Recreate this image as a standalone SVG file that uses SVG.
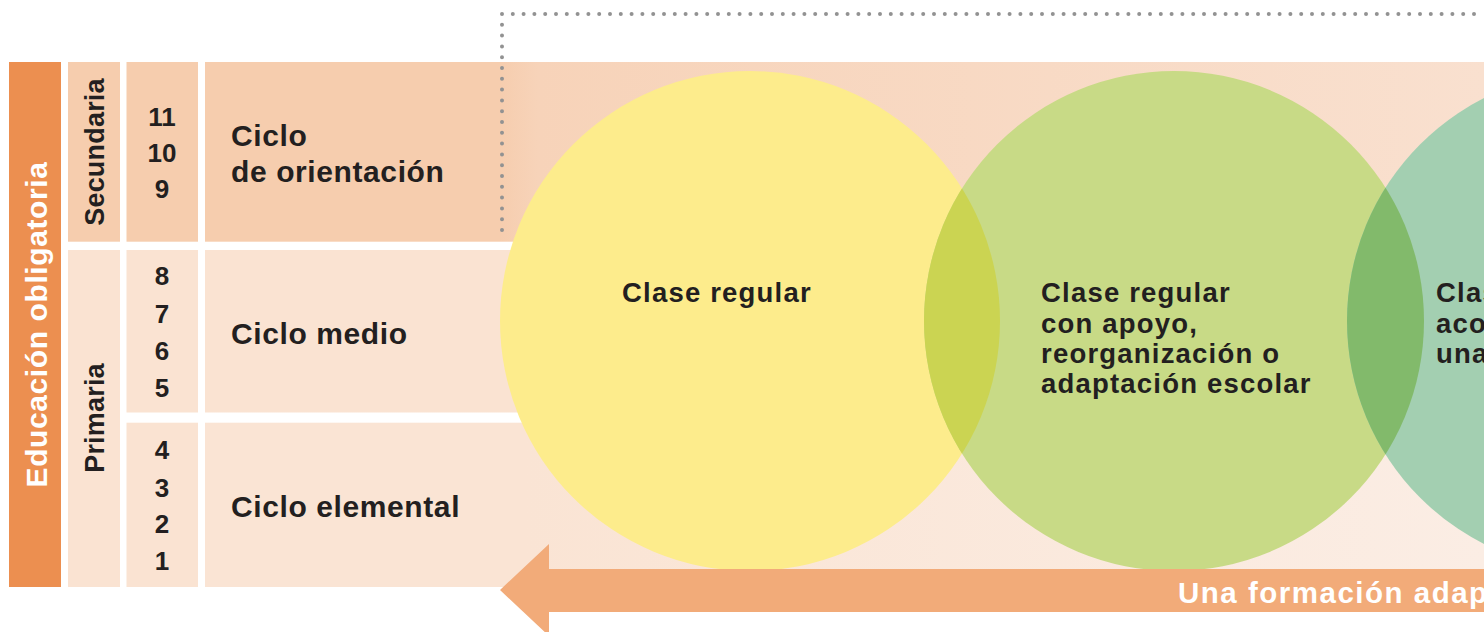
<svg xmlns="http://www.w3.org/2000/svg" width="1484" height="632" viewBox="0 0 1484 632">
<defs>
<style>
.t{font-family:"Liberation Sans",Arial,Helvetica,sans-serif;font-weight:bold;fill:#231f20}
.w{fill:#ffffff}
.num{font-size:26px;text-anchor:middle}
.side{font-size:27px;text-anchor:middle;letter-spacing:0.2px}
.cyc{font-size:30px;letter-spacing:0.6px}
.circ{font-size:27.5px;letter-spacing:1.2px}
.dark{fill:#f6cdae}
.light{fill:#fae3d2}
</style>
<linearGradient id="g1" gradientUnits="userSpaceOnUse" x1="205" y1="0" x2="1484" y2="0">
<stop offset="0.23" stop-color="#f6cdae"/>
<stop offset="0.26" stop-color="#f7d3b9"/>
<stop offset="1" stop-color="#f9e0cf"/>
</linearGradient>
<linearGradient id="g2" gradientUnits="userSpaceOnUse" x1="205" y1="0" x2="1484" y2="0">
<stop offset="0.25" stop-color="#fae3d2"/>
<stop offset="1" stop-color="#fbe9dd"/>
</linearGradient>
<linearGradient id="g3" gradientUnits="userSpaceOnUse" x1="205" y1="0" x2="1484" y2="0">
<stop offset="0.25" stop-color="#fae4d4"/>
<stop offset="1" stop-color="#fbede4"/>
</linearGradient>
<clipPath id="cGreen"><circle cx="1174" cy="321" r="250"/></clipPath>
<clipPath id="cTeal"><circle cx="1597" cy="321" r="250"/></clipPath>
</defs>
<rect width="1484" height="632" fill="#ffffff"/>

<g id="bands">
<rect x="205" y="62" width="1279" height="179.7" fill="url(#g1)"/>
<rect x="205" y="250" width="1279" height="162.5" fill="url(#g2)"/>
<rect x="205" y="422.7" width="1279" height="164.3" fill="url(#g3)"/>
</g>

<g id="frame">
<path d="M502,230 V14 H1484" fill="none" stroke="#929292" stroke-width="4" stroke-linecap="round" stroke-dasharray="0 10.8"/>
</g>

<g id="educacion-obligatoria">
<rect x="9" y="62" width="52" height="525" fill="#ec8f50"/>
<text class="t w" transform="translate(47,324.5) rotate(-90)" text-anchor="middle" style="font-size:30px;letter-spacing:0.6px">Educación obligatoria</text>
</g>

<g id="secundaria">
<rect class="dark" x="68" y="62" width="52" height="179.7"/>
<text class="t side" transform="translate(104,152) rotate(-90)">Secundaria</text>
<rect class="dark" x="126.5" y="62" width="71.5" height="179.7"/>
<text class="t num" x="162" y="126">11</text>
<text class="t num" x="162" y="162">10</text>
<text class="t num" x="162" y="198">9</text>
<text class="t cyc" x="231" y="146">Ciclo</text>
<text class="t cyc" x="231" y="182">de orientación</text>
</g>

<g id="primaria">
<rect class="light" x="68" y="250" width="52" height="337"/>
<text class="t side" transform="translate(104,418) rotate(-90)">Primaria</text>
</g>

<g id="ciclo-medio">
<rect class="light" x="126.5" y="250" width="71.5" height="162.5"/>
<text class="t num" x="162" y="285">8</text>
<text class="t num" x="162" y="323">7</text>
<text class="t num" x="162" y="360">6</text>
<text class="t num" x="162" y="397">5</text>
<text class="t cyc" x="231" y="344">Ciclo medio</text>
</g>

<g id="ciclo-elemental">
<rect class="light" x="126.5" y="422.7" width="71.5" height="164.3"/>
<text class="t num" x="162" y="459">4</text>
<text class="t num" x="162" y="497">3</text>
<text class="t num" x="162" y="533">2</text>
<text class="t num" x="162" y="570">1</text>
<text class="t cyc" x="231" y="517">Ciclo elemental</text>
</g>

<g id="clase-regular">
<circle cx="750" cy="321" r="250" fill="#fdec8c"/>
</g>
<g id="clase-regular-apoyo">
<circle cx="1174" cy="321" r="250" fill="#c8da86"/>
<circle cx="750" cy="321" r="250" fill="#cbd452" clip-path="url(#cGreen)"/>
</g>
<g id="clase-acompanada">
<circle cx="1597" cy="321" r="250" fill="#a3cfb1"/>
<circle cx="1174" cy="321" r="250" fill="#82ba6b" clip-path="url(#cTeal)"/>
</g>

<g id="labels">
<text class="t circ" x="622" y="302">Clase regular</text>
<text class="t circ" x="1041" y="302">Clase regular</text>
<text class="t circ" x="1041" y="333">con apoyo,</text>
<text class="t circ" x="1041" y="363">reorganización o</text>
<text class="t circ" x="1041" y="393">adaptación escolar</text>
<text class="t circ" x="1436" y="302">Clas</text>
<text class="t circ" x="1436" y="333">aco</text>
<text class="t circ" x="1436" y="363">una</text>
</g>

<g id="connectors">
<polygon points="500,590 549,544 549,569 1484,569 1484,612 549,612 549,636" fill="#f2ab79"/>
<text class="t w" x="1178" y="603" style="font-size:29.5px;letter-spacing:1.5px">Una formación adap</text>
</g>
</svg>
